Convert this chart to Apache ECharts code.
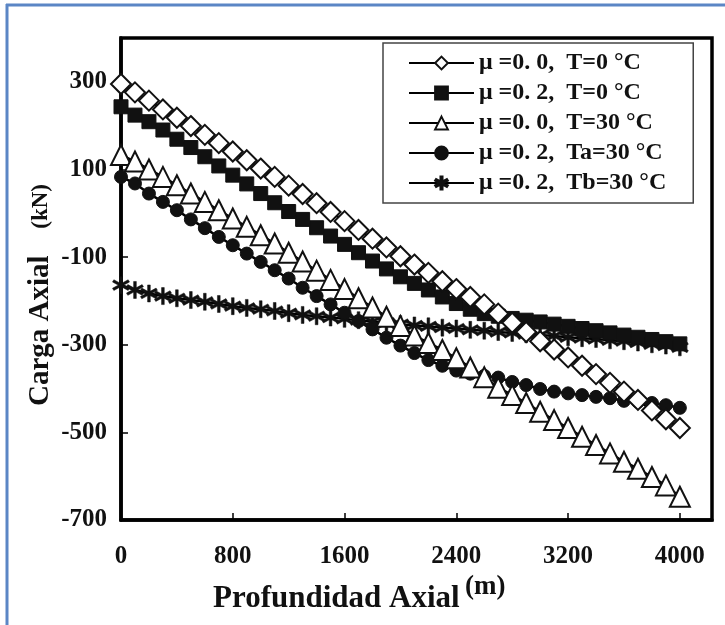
<!DOCTYPE html>
<html>
<head>
<meta charset="utf-8">
<script src="https://cdn.jsdelivr.net/npm/echarts@6/dist/echarts.min.js"></script>
<style>
html, body { margin: 0; padding: 0; background: #fff; }
#chart { width: 725px; height: 625px; }
</style>
</head>
<body>
<div id="chart"></div>
<script>
// profundidad (m), cada 100 m
var depth = [0, 100, 200, 300, 400, 500, 600, 700, 800, 900, 1000, 1100, 1200, 1300, 1400, 1500, 1600, 1700, 1800, 1900, 2000,
    2100, 2200, 2300, 2400, 2500, 2600, 2700, 2800, 2900, 3000, 3100, 3200, 3300, 3400, 3500, 3600, 3700, 3800, 3900, 4000];

// carga axial (kN)
var mu00_T0 = [295, 276, 257, 237, 218, 199, 179, 160, 141, 121, 102, 83, 63, 44, 23, 3, -18, -38, -58, -78, -98,
    -117, -136, -155, -173, -191, -208, -229, -250, -271, -292, -311, -329, -348, -367, -387, -407, -426, -450, -470, -490];
var mu02_T0 = [243, 224, 209, 190, 169, 150, 129, 108, 87, 67, 45, 24, 4, -14, -33, -52, -71, -90, -109, -127, -145,
    -160, -175, -191, -206, -219, -229, -235, -240, -244, -248, -253, -258, -263, -268, -273, -278, -283, -288, -293, -298];
var mu00_T30 = [133, 118, 100, 83, 64, 45, 26, 7, -12, -31, -50, -69, -90, -110, -131, -152, -173, -194, -215, -236, -257,
    -279, -296, -312, -331, -352, -374, -398, -415, -433, -453, -472, -490, -510, -529, -548, -567, -583, -602, -621, -647];
var mu02_Ta30 = [83, 68, 45, 26, 7, -14, -34, -54, -73, -92, -111, -130, -149, -170, -189, -208, -227, -246, -265, -284, -302,
    -319, -335, -348, -359, -366, -371, -375, -385, -392, -401, -407, -411, -415, -419, -422, -428, -430, -433, -438, -444];
var mu02_Tb30 = [-164, -175, -183, -189, -194, -198, -202, -207, -212, -216, -219, -223, -228, -232, -235, -238, -241, -244, -247, -250, -253,
    -256, -258, -261, -263, -266, -268, -271, -273, -276, -278, -280, -283, -285, -287, -290, -292, -295, -299, -302, -306];

var names = ['\u03bc =0. 0,  T=0 \u00b0C', '\u03bc =0. 2,  T=0 \u00b0C', '\u03bc =0. 0,  T=30 \u00b0C',
    '\u03bc =0. 2,  Ta=30 \u00b0C', '\u03bc =0. 2,  Tb=30 \u00b0C'];
var xTicks = [0, 800, 1600, 2400, 3200, 4000];
var yTicks = [-700, -500, -300, -100, 100, 300];

var font = 'Liberation Serif, Times New Roman, serif';
// asterisco de 6 brazos (relleno)
var star = 'path://M-1.5,-10L1.5,-10L1.5,10L-1.5,10Z' +
    'M-9.41,-3.7L-7.91,-6.3L9.41,3.7L7.91,6.3Z' +
    'M-7.91,6.3L-9.41,3.7L7.91,-6.3L9.41,-3.7Z';

function pairs(arr) {
    var out = [];
    for (var i = 0; i < depth.length; i++) {
        out.push([depth[i], arr[i]]);
    }
    return out;
}

function make_serie(name, arr, symbol, size, bw) {
    return {
        name: name,
        type: 'line',
        data: pairs(arr),
        symbol: symbol,
        symbolSize: size,
        showAllSymbol: true,
        lineStyle: {color: '#000', width: 2.5},
        itemStyle: {color: '#111', borderColor: '#111', borderWidth: bw},
        emphasis: {disabled: true}
    };
}

var myChart = echarts.init(document.getElementById('chart'));

var option = {
    backgroundColor: '#fff',
    animation: false,
    grid: {
        left: 121, right: 13, top: 38, bottom: 105,
        show: true, borderColor: '#000', borderWidth: 3.5
    },
    legend: {
        orient: 'vertical',
        left: 383, top: 43,
        data: names,
        itemWidth: 65, itemHeight: 16, itemGap: 6,
        padding: [8, 27, 8, 25],
        backgroundColor: '#fff',
        borderColor: '#444', borderWidth: 1.5,
        textStyle: {fontFamily: font, fontWeight: 'bold', fontSize: 24, color: '#111', lineHeight: 22}
    },
    xAxis: {
        type: 'value', min: 0, max: 4230, interval: 800,
        axisLine: {onZero: false, lineStyle: {color: '#000', width: 3.5}},
        axisTick: {inside: true, length: 7, lineStyle: {color: '#000', width: 1.5}},
        splitLine: {show: false},
        axisLabel: {
            showMaxLabel: false, margin: 24,
            fontFamily: font, fontWeight: 'bold', fontSize: 25, color: '#111',
            formatter: function (v) { return xTicks.indexOf(v) >= 0 ? String(v) : ''; }
        }
    },
    yAxis: {
        type: 'value', min: -700, max: 400, interval: 200,
        axisLine: {onZero: false, lineStyle: {color: '#000', width: 3.5}},
        axisTick: {inside: true, length: 7, lineStyle: {color: '#000', width: 1.5}},
        splitLine: {show: false},
        axisLabel: {
            showMaxLabel: false, margin: 14,
            fontFamily: font, fontWeight: 'bold', fontSize: 25, color: '#111',
            formatter: function (v) { return yTicks.indexOf(v) >= 0 ? String(v) : ''; }
        }
    },
    series: [
        make_serie(names[4], mu02_Tb30, star, 17, 0.5),
        make_serie(names[3], mu02_Ta30, 'circle', 13, 1),
        make_serie(names[2], mu00_T30, 'emptyTriangle', 20, 2.8),
        make_serie(names[1], mu02_T0, 'rect', 14, 1),
        make_serie(names[0], mu00_T0, 'emptyDiamond', 20, 2.8)
    ],
    graphic: [
        {type: 'line', shape: {x1: 7, y1: 4, x2: 7, y2: 625}, style: {stroke: '#5b86c5', lineWidth: 3}},
        {type: 'line', shape: {x1: 6, y1: 5, x2: 725, y2: 5}, style: {stroke: '#5b86c5', lineWidth: 3}},
        {
            type: 'text', x: 213, y: 599,
            style: {text: 'Profundidad Axial', font: 'bold 31px ' + font, fill: '#111', verticalAlign: 'middle'}
        },
        {
            type: 'text', x: 465, y: 587,
            style: {text: '(m)', font: 'bold 27px ' + font, fill: '#111', verticalAlign: 'middle'}
        },
        {
            type: 'text', x: 41, y: 295, rotation: Math.PI / 2,
            style: {
                text: '{a|Carga Axial}        {b|(kN)}',
                align: 'center', verticalAlign: 'middle',
                rich: {
                    a: {fontFamily: font, fontWeight: 'bold', fontSize: 29, fill: '#111', color: '#111'},
                    b: {fontFamily: font, fontWeight: 'bold', fontSize: 23, fill: '#111', color: '#111'}
                }
            }
        }
    ]
};

myChart.setOption(option);
</script>
</body>
</html>
